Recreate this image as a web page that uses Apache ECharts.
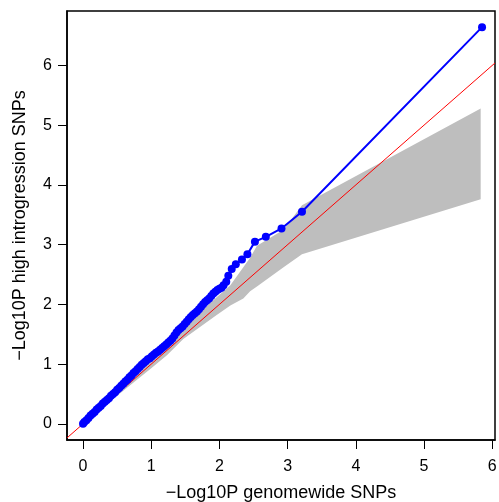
<!DOCTYPE html>
<html lang="en">
<head>
  <meta charset="UTF-8">
  <title>QQ plot</title>
  <script src="https://cdn.jsdelivr.net/npm/echarts@6/dist/echarts.min.js"></script>
  <style>
    body { margin: 0; padding: 0; background: #fff; }
  </style>
</head>
<body>
  <div id="chart" style="width: 499px; height: 502px;"></div>
  <script>
    // axis ranges and ticks
    var xMin = -0.235, xMax = 6.04;
    var yMin = -0.27, yMax = 6.91;
    var xTicks = [0, 1, 2, 3, 4, 5, 6];
    var yTicks = [0, 1, 2, 3, 4, 5, 6];

    // expected (genomewide) vs observed (high introgression) -log10 p
    var obsX = [0.00, 0.02, 0.05, 0.08, 0.11, 0.14, 0.17, 0.20, 0.23, 0.26, 0.29, 0.32, 0.35, 0.38,
      0.41, 0.44, 0.47, 0.50, 0.53, 0.56, 0.59, 0.62, 0.65, 0.68, 0.71, 0.74, 0.77, 0.80, 0.83,
      0.86, 0.89, 0.92, 0.95, 0.98, 1.01, 1.04, 1.07, 1.10, 1.13, 1.16, 1.19, 1.22, 1.25, 1.28,
      1.31, 1.34, 1.37, 1.40, 1.43, 1.46, 1.49, 1.52, 1.55, 1.58, 1.61, 1.64, 1.67, 1.70, 1.73,
      1.76, 1.79, 1.82, 1.85, 1.88, 1.91, 1.94, 1.97, 2.00, 2.03, 2.06,
      2.10, 2.13, 2.18, 2.24, 2.33, 2.41, 2.52, 2.68, 2.91, 3.21, 5.85];
    var obsY = [0.00, 0.03, 0.06, 0.10, 0.14, 0.17, 0.20, 0.24, 0.27, 0.30, 0.34, 0.37, 0.40, 0.43,
      0.47, 0.50, 0.53, 0.57, 0.60, 0.64, 0.67, 0.71, 0.74, 0.78, 0.81, 0.85, 0.88, 0.92, 0.95,
      0.99, 1.02, 1.05, 1.08, 1.10, 1.13, 1.16, 1.19, 1.21, 1.24, 1.27, 1.30, 1.33, 1.36, 1.39,
      1.43, 1.48, 1.53, 1.57, 1.60, 1.63, 1.67, 1.71, 1.75, 1.79, 1.82, 1.85, 1.88, 1.92, 1.96,
      2.00, 2.04, 2.07, 2.10, 2.14, 2.18, 2.21, 2.24, 2.26, 2.28, 2.32,
      2.38, 2.48, 2.59, 2.67, 2.75, 2.84, 3.05, 3.13, 3.27, 3.55, 6.64];

    // grey confidence band
    var bandX = [0, 0.5, 1.0, 1.23, 1.47, 1.96, 2.16, 2.35, 2.45, 2.55, 2.94, 3.21, 5.83];
    var bandLow = [0, 0.47, 0.93, 1.15, 1.42, 1.82, 1.98, 2.10, 2.22, 2.30, 2.62, 2.84, 3.76];
    var bandHigh = [0, 0.53, 1.07, 1.33, 1.62, 2.12, 2.32, 2.62, 2.78, 2.98, 3.25, 3.66, 5.28];

    var font = 'Liberation Sans, Arial, Helvetica, sans-serif';
    var chart = echarts.init(document.getElementById('chart'));

    function axis(min, max, ticks, name, gap, labelMargin) {
      return {
        type: 'value',
        min: min,
        max: max,
        name: name,
        nameLocation: 'middle',
        nameGap: gap,
        nameTextStyle: { fontSize: 18, color: '#000', fontFamily: font },
        axisLine: { show: true, onZero: false, lineStyle: { color: '#000', width: 1.5 } },
        axisTick: { show: true, length: 9, customValues: ticks, lineStyle: { color: '#000', width: 1 } },
        axisLabel: { customValues: ticks, fontSize: 16, color: '#000', fontFamily: font, margin: labelMargin },
        splitLine: { show: false }
      };
    }

    var option = {
      animation: false,
      grid: {
        left: 67, right: 4, top: 11, bottom: 62,
        outerBoundsMode: 'none', containLabel: false,
        show: true, borderColor: '#000', borderWidth: 1.5
      },
      xAxis: axis(xMin, xMax, xTicks, '\u2212Log10P genomewide SNPs', 44, 19),
      yAxis: axis(yMin, yMax, yTicks, '\u2212Log10P high introgression SNPs', 38, 15),
      series: [
        {
          type: 'custom',
          clip: true,
          data: [[bandX[0], bandLow[0]]],
          renderItem: function (params, api) {
            var pts = [];
            for (var i = 0; i < bandX.length; i++) pts.push(api.coord([bandX[i], bandHigh[i]]));
            for (var j = bandX.length - 1; j >= 0; j--) pts.push(api.coord([bandX[j], bandLow[j]]));
            return { type: 'polygon', shape: { points: pts }, style: { fill: '#BEBEBE' } };
          },
          z: 1
        },
        {
          type: 'line',
          data: [[xMin, xMin], [xMax, xMax]],
          symbol: 'none',
          lineStyle: { color: '#FF0000', width: 1 },
          z: 2
        },
        {
          type: 'line',
          data: obsX.map(function (x, i) { return [x, obsY[i]]; }),
          symbol: 'circle',
          symbolSize: 8,
          showSymbol: true,
          itemStyle: { color: '#0000FF' },
          lineStyle: { color: '#0000FF', width: 2 },
          z: 3
        }
      ]
    };
    chart.setOption(option);
  </script>
</body>
</html>
